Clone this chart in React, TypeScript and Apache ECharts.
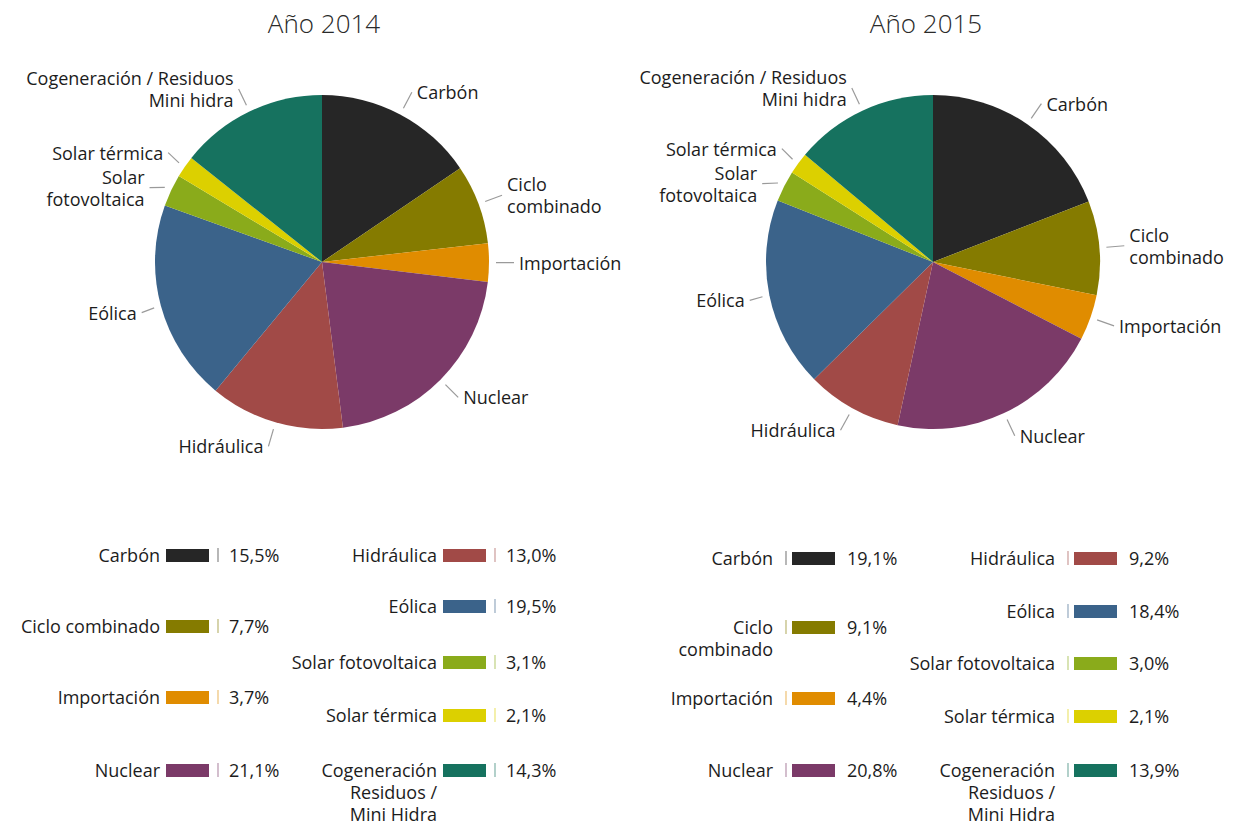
import React, { useEffect, useRef } from "react";
import * as echarts from "echarts";

const categories = [
  "Carbón",
  "Ciclo combinado",
  "Importación",
  "Nuclear",
  "Hidráulica",
  "Eólica",
  "Solar fotovoltaica",
  "Solar térmica",
  "Cogeneración / Residuos / Mini hidra",
];
const pieLabels = [
  "Carbón",
  "Ciclo\ncombinado",
  "Importación",
  "Nuclear",
  "Hidráulica",
  "Eólica",
  "Solar\nfotovoltaica",
  "Solar térmica",
  "Cogeneración / Residuos\nMini hidra",
];
const legendLabels2014 = [
  "Carbón",
  "Ciclo combinado",
  "Importación",
  "Nuclear",
  "Hidráulica",
  "Eólica",
  "Solar fotovoltaica",
  "Solar térmica",
  "Cogeneración\nResiduos /\nMini Hidra",
];
const legendLabels2015 = [
  "Carbón",
  "Ciclo\ncombinado",
  "Importación",
  "Nuclear",
  "Hidráulica",
  "Eólica",
  "Solar fotovoltaica",
  "Solar térmica",
  "Cogeneración\nResiduos /\nMini Hidra",
];
const values2014 = [15.5, 7.7, 3.7, 21.1, 13.0, 19.5, 3.1, 2.1, 14.3];
const values2015 = [19.1, 9.1, 4.4, 20.8, 9.2, 18.4, 3.0, 2.1, 13.9];
const colors = [
  "#262626",
  "#857b00",
  "#e08c00",
  "#7b3a68",
  "#a14a47",
  "#3b638a",
  "#8aab1b",
  "#dcd000",
  "#16725f",
];
const titles = ["Año 2014", "Año 2015"];

const FONT = "'Open Sans', 'Noto Sans', sans-serif";
const FS = 18;
const TEXT = "#1c1c1c";

const fmt = (v: number) => v.toFixed(1).replace(".", ",") + "%";

function legendGraphics(
  labels: string[],
  values: number[],
  cols: { labelX: number; rows: number[]; idx: number[] }[],
  tickFirst: boolean
) {
  const els: any[] = [];
  cols.forEach((col) => {
    col.idx.forEach((i, k) => {
      const y = col.rows[k];
      const lx = col.labelX;
      els.push({
        type: "text",
        silent: true,
        style: {
          text: labels[i],
          x: lx,
          y: y - 11,
          align: "right",
          verticalAlign: "top",
          lineHeight: 22,
          font: `${FS}px ${FONT}`,
          fill: TEXT,
        },
      });
      const swX = tickFirst ? lx + 19 : lx + 6;
      const tickX = tickFirst ? lx + 13 : lx + 58;
      const valX = tickFirst ? lx + 74 : lx + 69;
      els.push({
        type: "rect",
        silent: true,
        shape: { x: swX, y: y - 6, width: 43, height: 13 },
        style: { fill: colors[i] },
      });
      els.push({
        type: "line",
        silent: true,
        shape: { x1: tickX, y1: y - 7, x2: tickX, y2: y + 7 },
        style: { stroke: colors[i], opacity: 0.55, lineWidth: 1.2 },
      });
      els.push({
        type: "text",
        silent: true,
        style: {
          text: fmt(values[i]),
          x: valX,
          y: y,
          align: "left",
          verticalAlign: "middle",
          font: `${FS}px ${FONT}`,
          fill: TEXT,
        },
      });
    });
  });
  return els;
}

function pieSeries(values: number[], center: [number, number], r: number) {
  const data = values.map((v, i) => ({
    value: v,
    name: categories[i],
    itemStyle: { color: colors[i] },
  }));
  const labelData = values.map((v, i) => ({
    value: v,
    name: pieLabels[i],
  }));
  return [
    {
      type: "pie",
      center,
      radius: [0, r],
      startAngle: 90,
      clockwise: true,
      silent: true,
      label: { show: false },
      labelLine: { show: false },
      itemStyle: { borderWidth: 0 },
      data,
    },
    {
      type: "pie",
      center,
      radius: [0, r + 7],
      startAngle: 90,
      clockwise: true,
      silent: true,
      itemStyle: { color: "rgba(0,0,0,0)", borderWidth: 0 },
      label: {
        show: true,
        position: "outside",
        formatter: "{b}",
        color: TEXT,
        fontSize: FS,
        fontFamily: FONT,
        lineHeight: 22,
        distanceToLabelLine: 5,
      },
      labelLine: {
        show: true,
        length: 18,
        length2: 0,
        lineStyle: { color: "#9a9a9a", width: 1.2 },
      },
      data: labelData,
    },
  ];
}

export default function App() {
  const ref = useRef<HTMLDivElement>(null);
  useEffect(() => {
    if (!ref.current) return;
    const chart = echarts.init(ref.current, undefined, { renderer: "svg" });
    const titleStyle = {
      align: "center",
      verticalAlign: "middle",
      font: `300 26px ${FONT}`,
      fill: "#2a2a2a",
    };
    const graphics = [
      {
        type: "text",
        silent: true,
        style: { ...titleStyle, text: titles[0], x: 324, y: 23 },
      },
      {
        type: "text",
        silent: true,
        style: { ...titleStyle, text: titles[1], x: 926, y: 23 },
      },
      ...legendGraphics(
        legendLabels2014,
        values2014,
        [
          { labelX: 160, rows: [555, 626, 697, 770], idx: [0, 1, 2, 3] },
          { labelX: 437, rows: [555, 606, 662, 715, 770], idx: [4, 5, 6, 7, 8] },
        ],
        false
      ),
      ...legendGraphics(
        legendLabels2015,
        values2015,
        [
          { labelX: 773, rows: [558, 627, 698, 770], idx: [0, 1, 2, 3] },
          { labelX: 1055, rows: [558, 611, 663, 716, 770], idx: [4, 5, 6, 7, 8] },
        ],
        true
      ),
    ];
    chart.setOption({
      animation: false,
      backgroundColor: "#ffffff",
      series: [
        ...pieSeries(values2014, [322, 262], 167),
        ...pieSeries(values2015, [933, 262], 167),
      ],
      graphic: graphics,
    });
    return () => chart.dispose();
  }, []);
  return (
    <div
      ref={ref}
      style={{ position: "fixed", left: 0, top: 0, width: 1237, height: 826 }}
    />
  );
}
